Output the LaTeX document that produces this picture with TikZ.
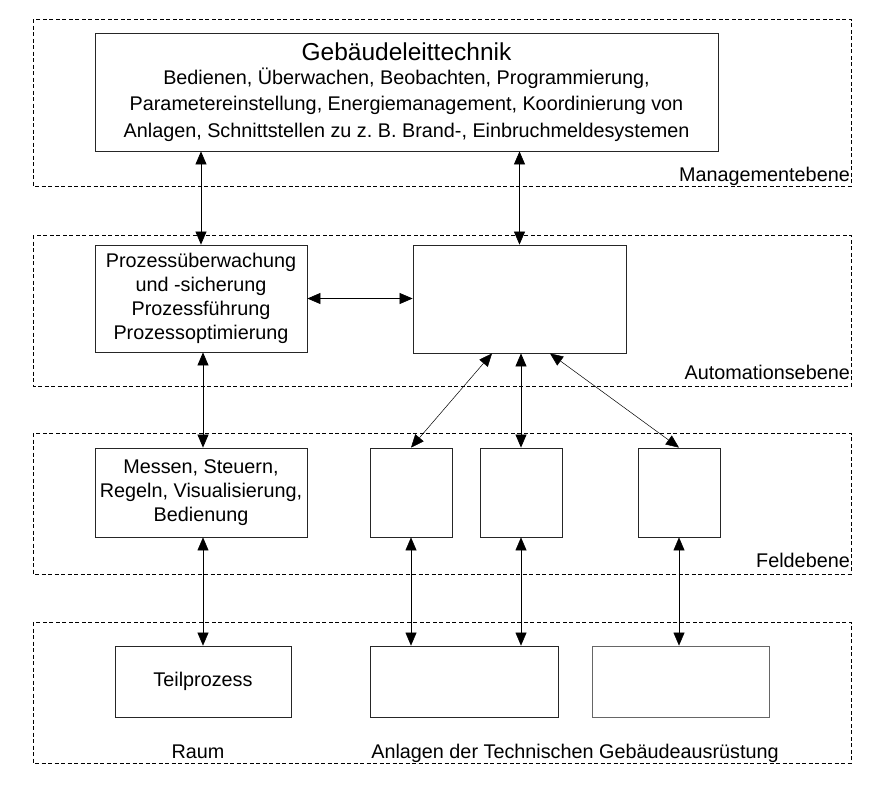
\documentclass[tikz,border=0pt]{standalone}
\usepackage{fontspec}
\setmainfont{Liberation Sans}
\usetikzlibrary{arrows.meta}
\begin{document}
\begin{tikzpicture}[x=1pt,y=-1pt,
  layer/.style={draw=black,line width=0.7pt,dash pattern=on 4pt off 2.5pt},
  box/.style={draw=black!85,line width=0.8pt,inner sep=0pt,align=center,font=\fontsize{19.8}{24}\selectfont},
  conn/.style={line width=0.7pt,{Triangle[length=13pt,width=11pt]}-{Triangle[length=13pt,width=11pt]}},
  lbl/.style={font=\fontsize{19.8}{22}\selectfont,inner sep=0pt}]
\useasboundingbox (0,0) rectangle (893,785);
% layers
\draw[layer] (33,19) rectangle (851,186);
\draw[layer] (33,235) rectangle (851,386);
\draw[layer] (33,433) rectangle (851,574);
\draw[layer] (33,622) rectangle (851,763);
\node[lbl,anchor=base east] (lm) at (850,181) {Managementebene};
\node[lbl,anchor=base east] (la) at (850,379) {Automationsebene};
\node[lbl,anchor=base east] (lf) at (850,567) {Feldebene};
\node[lbl,anchor=base] (lr) at (198,758) {Raum};
\node[lbl,anchor=base] (lt) at (575,758) {Anlagen der Technischen Gebäudeausrüstung};
% boxes
\node[box,minimum width=623pt,minimum height=118pt,font=\fontsize{19.8}{26.5}\selectfont] (glt) at (406.5,92)
  {{\fontsize{24.5}{26}\selectfont Gebäudeleittechnik}\\[-3pt]
   Bedienen, Überwachen, Beobachten, Programmierung,\\
   Parametereinstellung, Energiemanagement, Koordinierung von\\
   Anlagen, Schnittstellen zu z.\ B. Brand-, Einbruchmeldesystemen};
\node[box,minimum width=212pt,minimum height=107pt] (prz) at (201,298.5)
  {Prozessüberwachung\\und -sicherung\\Prozessführung\\Prozessoptimierung};
\node[box,minimum width=213pt,minimum height=108pt] (aut) at (519.5,299) {};
\node[box,minimum width=212pt,minimum height=89pt] (mes) at (201,492.5)
  {Messen, Steuern,\\Regeln, Visualisierung,\\Bedienung};
\node[box,minimum width=82pt,minimum height=89pt] (b1) at (411,492.5) {};
\node[box,minimum width=82pt,minimum height=89pt] (b2) at (521,492.5) {};
\node[box,minimum width=82pt,minimum height=89pt] (b3) at (679,492.5) {};
\node[box,minimum width=176pt,minimum height=71pt] (tp) at (203,681.5) {Teilprozess};
\node[box,minimum width=188pt,minimum height=71pt] (an1) at (464,681.5) {};
\node[box,minimum width=177pt,minimum height=71pt,draw=black!60] (an2) at (680.5,681.5) {};
% connectors
\draw[conn] (glt.south -| prz.north) -- (prz.north);
\draw[conn] (glt.south -| aut.north) -- (aut.north);
\draw[conn] (prz.east) -- (aut.west |- prz.east);
\draw[conn] ([xshift=2pt]prz.south) -- ([xshift=2pt]mes.north);
\draw[conn,line width=0.5pt] ([xshift=-27.5pt]aut.south) -- (b1.north);
\draw[conn] (aut.south -| b2.north) -- (b2.north);
\draw[conn,line width=0.5pt] ([xshift=30.5pt]aut.south) -- (b3.north);
\draw[conn,line width=0.5pt] ([xshift=2pt]mes.south) -- (tp.north);
\draw[conn,line width=0.5pt] (b1.south) -- (b1.south |- an1.north);
\draw[conn,line width=0.5pt] (b2.south) -- (b2.south |- an1.north);
\draw[conn,line width=0.5pt] (b3.south) -- (b3.south |- an2.north);
\end{tikzpicture}
\end{document}
